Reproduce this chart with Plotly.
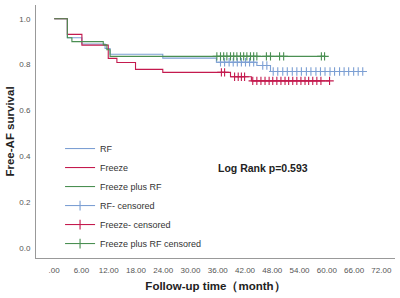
import plotly.graph_objects as go

# Kaplan-Meier step curves (time in months, survival)
rf_t = [0, 2.9, 6.1, 11.2, 12.3, 23.9, 35.7, 44.6, 47.6, 67.9]
rf_s = [1.0, 0.917, 0.89, 0.87, 0.845, 0.828, 0.81, 0.796, 0.77, 0.77]

fz_t = [0, 2.9, 6.1, 11.9, 13.8, 17.9, 23.9, 38.8, 43.4, 60.6]
fz_s = [1.0, 0.932, 0.885, 0.827, 0.809, 0.779, 0.766, 0.747, 0.729, 0.729]

fr_t = [0, 2.9, 3.9, 10.8, 11.6, 12.3, 59.5]
fr_s = [1.0, 0.917, 0.90, 0.886, 0.865, 0.836, 0.836]

# censoring times
rf_c = [36.6, 37.5, 38.5, 39.4, 40.3, 41.2, 42.1, 43.0, 43.9, 45.9, 46.8,
        48.2, 49.2, 50.3, 51.3, 52.4, 53.4, 54.4, 55.5, 56.5, 57.6, 58.6,
        59.6, 60.7, 61.7, 62.8, 63.8, 64.8, 65.9, 66.9, 67.9]
fz_c = [36.8, 37.5, 39.7, 40.5, 41.2, 41.9, 43.7, 44.6, 45.5, 46.4, 47.3,
        48.1, 49.0, 49.9, 50.8, 51.6, 52.5, 53.4, 54.3, 55.2, 56.0, 56.9,
        57.8, 58.7, 60.6]
fr_c = [35.8, 36.6, 37.3, 38.0, 38.8, 39.5, 40.2, 41.0, 41.7, 42.4, 43.2,
        43.9, 44.6, 46.7, 47.6, 49.6, 50.5, 58.8, 59.5]

x_ticks = [0, 6, 12, 18, 24, 30, 36, 42, 48, 54, 60, 66, 72]
x_ticktext = [".00", "6.00", "12.00", "18.00", "24.00", "30.00", "36.00",
              "42.00", "48.00", "54.00", "60.00", "66.00", "72.00"]
y_ticks = [0.0, 0.2, 0.4, 0.6, 0.8, 1.0]
y_ticktext = ["0.0", "0.2", "0.4", "0.6", "0.8", "1.0"]

C_RF = "#7c9fd3"
C_FZ = "#c41a4e"
C_FR = "#4a8f52"


def km_at(ts, ss, t):
    v = ss[0]
    for ti, si in zip(ts, ss):
        if ti <= t:
            v = si
    return v


fig = go.Figure()
series = [
    ("RF", rf_t, rf_s, rf_c, C_RF, "RF- censored"),
    ("Freeze", fz_t, fz_s, fz_c, C_FZ, "Freeze- censored"),
    ("Freeze plus RF", fr_t, fr_s, fr_c, C_FR, "Freeze plus RF censored"),
]
for name, t, s, c, col, cname in series:
    fig.add_trace(go.Scatter(x=t, y=s, mode="lines", line_shape="hv",
                             line=dict(color=col, width=1.1), name=name))
for name, t, s, c, col, cname in series:
    fig.add_trace(go.Scatter(
        x=c, y=[km_at(t, s, ci) for ci in c], mode="markers", name=cname,
        showlegend=False, legendgroup=cname,
        marker=dict(symbol="cross-thin", size=6, line=dict(color=col, width=1.1))))
    # legend-only entry showing line with cross
    fig.add_trace(go.Scatter(
        x=[None], y=[None], mode="lines+markers", name=cname, legendgroup=cname,
        line=dict(color=col, width=1.1),
        marker=dict(symbol="cross-thin", size=7, line=dict(color=col, width=1.1))))

fig.add_annotation(x=46, y=0.35, xref="x", yref="y", text="<b>Log Rank p=0.593</b>",
                   showarrow=False, font=dict(size=10.5, color="#222", family="Liberation Sans"))

fig.update_layout(
    width=400, height=298,
    margin=dict(l=36, r=5, t=5, b=40),
    paper_bgcolor="white", plot_bgcolor="white",
    font=dict(family="Liberation Sans", color="#333"),
    legend=dict(x=0.067, y=0.49, xanchor="left", yanchor="top",
                font=dict(size=9, color="#333"), itemwidth=30,
                bgcolor="rgba(0,0,0,0)", tracegroupgap=0),
    xaxis=dict(range=[-4, 75], tickvals=x_ticks, ticktext=x_ticktext,
               showgrid=False, zeroline=False, showline=True, linecolor="#999",
               linewidth=1, ticks="outside", ticklen=4, tickcolor="rgba(0,0,0,0)",
               tickfont=dict(size=8, color="#555"),
               title=dict(text="<b>Follow-up time（month）</b>", standoff=8,
                          font=dict(size=11.5, color="#222")),
               automargin=False),
    yaxis=dict(range=[-0.044, 1.06], tickvals=y_ticks, ticktext=y_ticktext,
               showgrid=False, zeroline=False, showline=True, linecolor="#999",
               linewidth=1, ticks="outside", ticklen=3, tickcolor="rgba(0,0,0,0)",
               tickfont=dict(size=8, color="#555"),
               title=dict(text="<b>Free-AF survival</b>", standoff=2,
                          font=dict(size=11.5, color="#222")),
               automargin=False),
)

fig.write_html("out.html", config={"displayModeBar": False},
               post_script="document.body.style.margin='0';")
